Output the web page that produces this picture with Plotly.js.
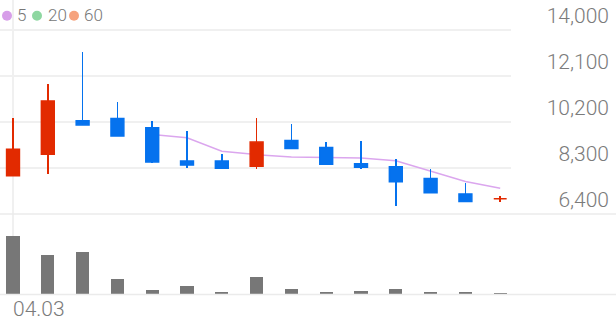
<!DOCTYPE html>
<html>
<head>
<meta charset="utf-8">
<script src="https://cdn.plot.ly/plotly-3.0.1.min.js"></script>
<style>html,body{margin:0;padding:0;background:#fff;}#chart{width:616px;height:321px;}</style>
</head>
<body>
<div id="chart"></div>
<script>
// ---- data ----
const dayIndex = [0,1,2,3,4,5,6,7,8,9,10,11,12,13,14];
const openP  = [7980, 8870, 10250, 10340, 9960, 8590, 8590, 8370, 9440, 9150, 8480, 8350, 7870, 7230, 7030];
const highP  = [10350, 11780, 13080, 11040, 10250, 9830, 8880, 10380, 10120, 9360, 9430, 8660, 8250, 7670, 7140];
const lowP   = [7980, 8060, 10080, 9620, 8520, 8300, 8290, 8250, 9070, 8450, 8250, 6730, 7280, 6920, 6900];
const closeP = [9070, 11070, 10080, 9620, 8550, 8420, 8290, 9370, 9110, 8450, 8330, 7730, 7280, 6920, 7030];
const ma5    = [null, null, null, null, 9680, 9550, 8990, 8850, 8750, 8730, 8710, 8600, 8180, 7740, 7460];
const volume = [580000, 394000, 424000, 147000, 44000, 80000, 17000, 167000, 47000, 17000, 30000, 50000, 20000, 17000, 10000];
const xTickVals = [0];
const xTickText = ['04.03'];
const priceTicks = [6400, 8300, 10200, 12100, 14000];
const maLabels = ['5', '20', '60'];
const maColors = ['#d79ee9', '#8ed7a1', '#f6a37e'];

// ---- styles ----
const UP = '#e22a00', DOWN = '#0572ee', VOLC = '#777777', GRID = '#f0f0f0', TXT = '#7b7b7b';

const bodyBase = openP.map((o, i) => Math.min(o, closeP[i]));
const bodyLen = openP.map((o, i) => Math.abs(closeP[i] - o));
const candleColor = openP.map((o, i) => closeP[i] >= o ? UP : DOWN);
const wickLen = highP.map((h, i) => h - lowP[i]);

const traces = [
  {type: 'scatter', mode: 'lines', x: dayIndex, y: ma5, xaxis: 'x', yaxis: 'y',
   line: {color: '#dba6ee', width: 1.5}, hoverinfo: 'skip', connectgaps: false},
  {type: 'bar', x: dayIndex, y: wickLen, base: lowP, xaxis: 'x', yaxis: 'y3', width: 0.045,
   marker: {color: candleColor, line: {width: 0}}, hoverinfo: 'skip'},
  {type: 'bar', x: dayIndex, y: bodyLen, base: bodyBase, xaxis: 'x', yaxis: 'y3', width: 0.37,
   marker: {color: candleColor, line: {width: 1.5, color: candleColor}}, hoverinfo: 'skip'},
  {type: 'bar', x: dayIndex, y: volume, xaxis: 'x', yaxis: 'y2', width: 0.38,
   marker: {color: VOLC, line: {width: 0}}, hoverinfo: 'skip'}
];

const pxPerPrice = 1900 / 46;
const priceRange = [6400, 6400 + 214 * pxPerPrice];
const H = 321, W = 616;

const shapes = [
  {type: 'line', xref: 'paper', yref: 'paper', x0: 0, x1: 1, y0: (H - 214) / H, y1: (H - 214) / H,
   line: {color: '#ebebeb', width: 1.5}},
  {type: 'line', xref: 'paper', yref: 'paper', x0: 0, x1: 1, y0: (H - 294.5) / H, y1: (H - 294.5) / H,
   line: {color: '#ebebeb', width: 1.5}}
];
const annotations = [];
const dotX = [7, 37, 74];
const labX = [15, 45.5, 82];
maLabels.forEach((lab, i) => {
  shapes.push({type: 'circle', xref: 'paper', yref: 'paper', xsizemode: 'pixel', ysizemode: 'pixel',
    xanchor: 0, yanchor: 1, x0: dotX[i] - 5, x1: dotX[i] + 5, y0: -10.7, y1: -20.7,
    fillcolor: maColors[i], line: {width: 0}});
  annotations.push({xref: 'paper', yref: 'paper', x: labX[i] / W, y: 1 - 15.5 / H, xanchor: 'left', yanchor: 'middle',
    text: lab, showarrow: false, font: {family: 'Roboto', size: 17, color: '#777777', weight: 300}});
});

const layout = {
  width: W, height: H,
  margin: {l: 0, r: 0, t: 0, b: 0},
  paper_bgcolor: '#fff', plot_bgcolor: '#fff',
  showlegend: false, bargap: 0, barmode: 'overlay',
  xaxis: {domain: [0, 511 / W], range: [-0.374, 14.31], anchor: 'y2',
    tickmode: 'array', tickvals: xTickVals, ticktext: xTickText, ticks: '',
    ticklabelposition: 'outside right',
    showgrid: true, gridcolor: GRID, gridwidth: 1.5, zeroline: false, showline: false,
    tickfont: {family: 'Roboto', size: 21, color: TXT, weight: 300}, fixedrange: true},
  yaxis: {domain: [(H - 214) / H, 1], range: priceRange, side: 'right', anchor: 'free', position: 612 / W,
    tickmode: 'array', tickvals: priceTicks, tickformat: ',', ticks: '',
    ticklabelposition: 'inside top',
    showgrid: true, gridcolor: GRID, gridwidth: 1.5, zeroline: false, showline: false,
    tickfont: {family: 'Roboto', size: 21, color: TXT, weight: 300}, fixedrange: true},
  yaxis3: {overlaying: 'y', range: priceRange, visible: false, side: 'right', fixedrange: true},
  yaxis2: {domain: [(H - 294) / H, (H - 214) / H], range: [0, 800000], showgrid: false,
    showticklabels: false, zeroline: false, showline: false, ticks: '', fixedrange: true},
  shapes: shapes,
  annotations: annotations
};

Plotly.newPlot('chart', traces, layout, {displayModeBar: false, staticPlot: true});
</script>
</body>
</html>
